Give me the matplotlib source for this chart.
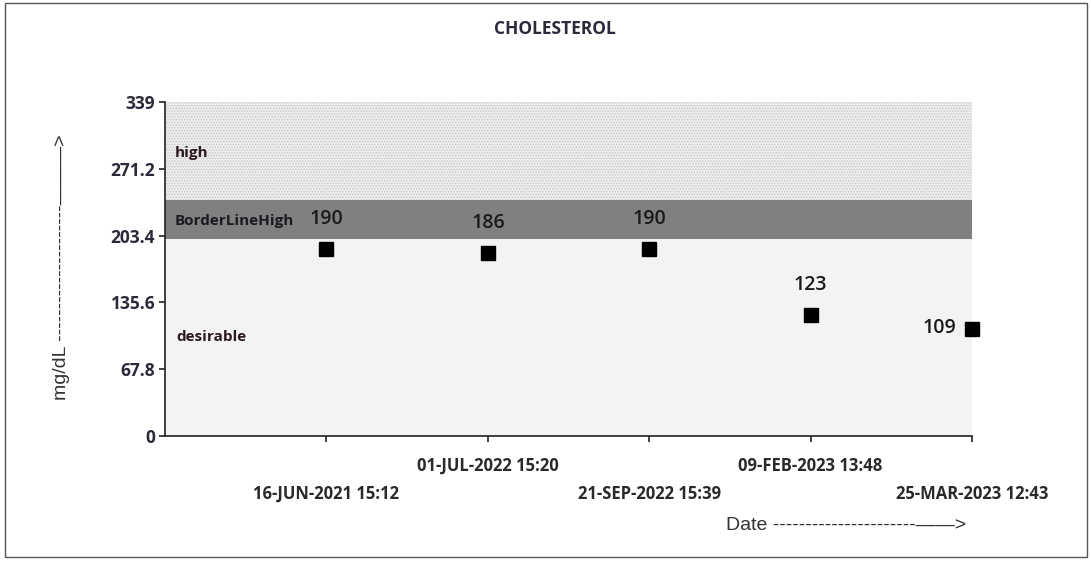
import matplotlib
matplotlib.use("Agg")
import matplotlib.pyplot as plt
from matplotlib.patches import Rectangle

# ---- data ----
dates = ["16-JUN-2021 15:12", "01-JUL-2022 15:20", "21-SEP-2022 15:39",
         "09-FEB-2023 13:48", "25-MAR-2023 12:43"]
values = [190, 186, 190, 123, 109]
band_names = ["desirable", "BorderLineHigh", "high"]
band_lows = [0, 200, 240]
band_highs = [200, 240, 339]
yticks = [0, 67.8, 135.6, 203.4, 271.2, 339]
ytick_labels = ["0", "67.8", "135.6", "203.4", "271.2", "339"]

plt.rcParams['hatch.color'] = '#c4c4c4'
plt.rcParams['hatch.linewidth'] = 0.6

W, H = 1091, 562
fig = plt.figure(figsize=(W / 100, H / 100), dpi=100)
ax = fig.add_axes([165 / W, 1 - 436 / H, (972 - 165) / W, (436 - 102) / H])

FAM = ["Open Sans", "DejaVu Sans"]
SANS = ["Liberation Sans", "DejaVu Sans"]
BOLD = dict(family=FAM, weight="bold")

x = list(range(1, len(values) + 1))
ax.set_xlim(0, len(values))
ax.set_ylim(0, 339)

# bands
band_face = ["#f3f3f3", "#808080", "#ececec"]
band_hatch = [None, None, "......"]
for lo, hi, fc, hc, name in zip(band_lows, band_highs, band_face, band_hatch, band_names):
    ax.axhspan(lo, hi, facecolor=fc, hatch=hc, edgecolor="#c4c4c4" if hc else fc,
               linewidth=0, zorder=0)

# band labels
ax.text(0.06, 287, "high", fontsize=11, color="#2a1a20", va="center", **BOLD)
ax.text(0.06, 218, "BorderLineHigh", fontsize=11, color="#1a1a20", va="center", **BOLD)
ax.text(0.07, 100, "desirable", fontsize=11, color="#2a1a20", va="center", **BOLD)

# markers
ax.plot(x, values, linestyle="none", marker="s", markersize=10, color="black",
        clip_on=False, zorder=5)

# value labels
for i, (xi, v) in enumerate(zip(x, values)):
    if i == len(values) - 1:
        ax.text(xi - 0.1, v + 1, str(v), ha="right", va="center", fontsize=14,
                color="#1a1a1a", family=FAM, weight="semibold")
    else:
        ax.text(xi, v + 30, str(v), ha="center", va="center", fontsize=14,
                color="#1a1a1a", family=FAM, weight="semibold")

# axes styling
for s in ["top", "right"]:
    ax.spines[s].set_visible(False)
ax.spines["left"].set_color("#222222")
ax.spines["bottom"].set_color("#222222")
ax.spines["left"].set_linewidth(1.2)
ax.spines["bottom"].set_linewidth(1.2)

ax.set_yticks(yticks)
ax.set_yticklabels(ytick_labels)
ax.set_xticks(x)
ax.set_xticklabels(dates)
ax.tick_params(axis="both", length=4, width=1.2, color="#222222")
for lab in ax.get_yticklabels():
    lab.set_fontsize(12.5)
    lab.set_fontfamily(FAM)
    lab.set_fontweight("bold")
    lab.set_color("#2a2a3a")
for lab in ax.get_xticklabels():
    lab.set_fontsize(12)
    lab.set_fontfamily(FAM)
    lab.set_fontweight("bold")
    lab.set_color("#2a2a2a")
for i, t in enumerate(ax.xaxis.get_major_ticks()):
    t.set_pad(11 if i % 2 == 1 else 31)
ax.tick_params(axis="y", pad=3)

# title
fig.text(555 / W, 1 - 29 / H, "CHOLESTEROL", ha="center", va="center",
         fontsize=12.5, color="#2a2a3a", **BOLD)

# axis labels with arrows
fig.text(846 / W, 1 - 525 / H, "Date ----------------------\u2014\u2014>", ha="center",
         va="center", fontsize=14, color="#333333", family=SANS)
fig.text(62 / W, 1 - 267 / H, "mg/dL ---------------------\u2014\u2014\u2014>", ha="center",
         va="center", fontsize=14, color="#333333", rotation=90, family=SANS)

# outer frame
fig.patches.append(Rectangle((5 / W, 1 - 557 / H), (1087 - 5) / W, (557 - 3) / H,
                             transform=fig.transFigure, fill=False,
                             edgecolor="#555555", linewidth=1))

fig.savefig("out.png", dpi=100)
